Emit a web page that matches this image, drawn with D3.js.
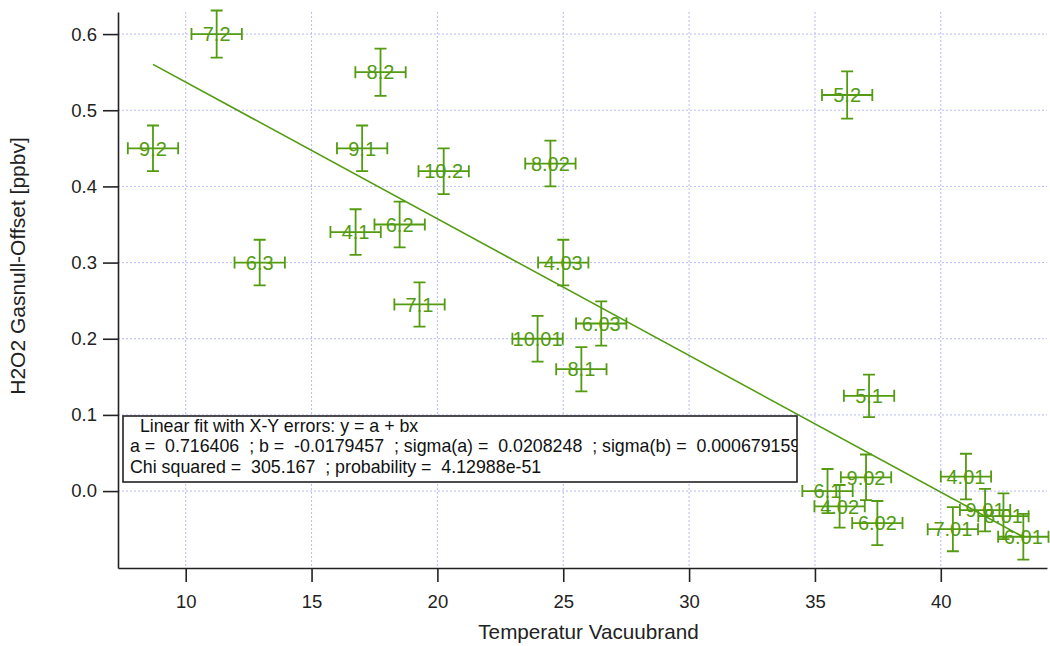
<!DOCTYPE html>
<html>
<head>
<meta charset="utf-8">
<script src="https://cdn.jsdelivr.net/npm/d3@7"></script>
<style>
  body { margin: 0; background: #fff; }
  svg { font-family: "Liberation Sans", Arial, sans-serif; }
</style>
</head>
<body>
<div id="chart"></div>
<script>
// point labels and values
var labels = ["7.2", "8.2", "9.2", "9.1", "10.2", "5.2", "8.02", "4.1", "6.2", "6.3", "4.03", "7.1",
              "6.03", "10.01", "8.1", "5.1", "9.02", "6.1", "4.02", "6.02", "4.01", "7.01", "9.01", "8.01", "6.01"]
var xValues = [11.23, 17.74, 8.70, 17.01, 20.25, 36.28, 24.49, 16.75, 18.50, 12.94, 25.00, 19.29,
               26.51, 23.98, 25.72, 37.15, 37.03, 35.50, 35.98, 37.48, 41.00, 40.48, 41.76, 42.49, 43.28]
var yValues = [0.600, 0.550, 0.450, 0.450, 0.420, 0.520, 0.430, 0.340, 0.350, 0.300, 0.300, 0.245,
               0.220, 0.200, 0.160, 0.125, 0.018, 0.000, -0.020, -0.042, 0.019, -0.050, -0.025, -0.033, -0.060]
var xErrors = [1.0, 1.0, 1.0, 1.0, 1.0, 1.0, 1.0, 1.0, 1.0, 1.0, 1.0, 1.0,
               1.0, 1.0, 1.0, 1.0, 1.0, 1.0, 1.0, 1.0, 1.0, 1.0, 1.0, 1.0, 1.0]
var yErrors = [0.031, 0.031, 0.030, 0.030, 0.030, 0.031, 0.030, 0.030, 0.030, 0.030, 0.030, 0.029,
               0.029, 0.030, 0.029, 0.028, 0.030, 0.029, 0.028, 0.029, 0.030, 0.029, 0.028, 0.030, 0.030]
var xTicks = [10, 15, 20, 25, 30, 35, 40]
var yTicks = [0.0, 0.1, 0.2, 0.3, 0.4, 0.5, 0.6]
var fitA = 0.716406
var fitB = -0.0179457
var fitText = [
  "  Linear fit with X-Y errors: y = a + bx",
  "a =  0.716406  ; b =  -0.0179457  ; sigma(a) =  0.0208248  ; sigma(b) =  0.000679159",
  "Chi squared =  305.167  ; probability =  4.12988e-51"
]

var width = 1050, height = 646
var plotLeft = 118, plotRight = 1047, plotTop = 12, plotBottom = 568
var green = "#539b10"

var x = d3.scaleLinear().domain([7.31, 44.22]).range([plotLeft, plotRight])
var y = d3.scaleLinear().domain([-0.101, 0.629]).range([plotBottom, plotTop])

var svg = d3.select("#chart").append("svg")
    .attr("width", width)
    .attr("height", height)

// dotted grid
svg.append("g").selectAll("line")
  .data(xTicks).enter().append("line")
  .attr("x1", function (d) { return x(d) }).attr("x2", function (d) { return x(d) })
  .attr("y1", plotTop).attr("y2", plotBottom)
  .attr("stroke", "#b9b9fa").attr("stroke-width", 1).attr("stroke-dasharray", "2,2")
svg.append("g").selectAll("line")
  .data(yTicks).enter().append("line")
  .attr("x1", plotLeft).attr("x2", plotRight)
  .attr("y1", function (d) { return y(d) }).attr("y2", function (d) { return y(d) })
  .attr("stroke", "#b9b9fa").attr("stroke-width", 1).attr("stroke-dasharray", "2,2")

// axes
var xAxis = d3.axisBottom(x).tickValues(xTicks).tickSize(14).tickPadding(13).tickSizeOuter(0)
var yAxis = d3.axisLeft(y).tickValues(yTicks).tickSize(15).tickPadding(6).tickSizeOuter(0)
  .tickFormat(d3.format(".1f"))

var gx = svg.append("g").attr("transform", "translate(0," + plotBottom + ")").call(xAxis)
var gy = svg.append("g").attr("transform", "translate(" + plotLeft + ",0)").call(yAxis)
;[gx, gy].forEach(function (g) {
  g.select(".domain").attr("stroke", "#222").attr("stroke-width", 1.6)
  g.selectAll(".tick line").attr("stroke", "#222").attr("stroke-width", 1.6)
  g.selectAll(".tick text").attr("fill", "#222").attr("font-size", 18.5)
    .attr("font-family", "Liberation Sans, Arial, sans-serif")
})

svg.append("text")
  .attr("x", (plotLeft + plotRight) / 2 + 6).attr("y", 639)
  .attr("text-anchor", "middle").attr("font-size", 20.7).attr("fill", "#222")
  .text("Temperatur Vacuubrand")
svg.append("text")
  .attr("transform", "translate(25," + 266 + ") rotate(-90)")
  .attr("text-anchor", "middle").attr("font-size", 21).attr("fill", "#222")
  .text("H2O2 Gasnull-Offset [ppbv]")

// fit line
var x0 = d3.min(xValues), x1 = d3.max(xValues)
svg.append("line")
  .attr("x1", x(x0)).attr("y1", y(fitA + fitB * x0))
  .attr("x2", x(x1)).attr("y2", y(fitA + fitB * x1))
  .attr("stroke", green).attr("stroke-width", 1.6)

// points with error bars
var points = labels.map(function (l, i) {
  return { label: l, x: xValues[i], y: yValues[i], ex: xErrors[i], ey: yErrors[i] }
})
var cap = 6
var node = svg.append("g").selectAll("g")
  .data(points).enter().append("g")
  .attr("stroke", green).attr("stroke-width", 1.8).attr("fill", "none")

node.append("path").attr("d", function (d) {
  var cx = x(d.x), cy = y(d.y)
  var xl = x(d.x - d.ex), xr = x(d.x + d.ex)
  var yt = y(d.y + d.ey), yb = y(d.y - d.ey)
  return "M" + xl + "," + cy + "H" + xr +
    "M" + xl + "," + (cy - cap) + "V" + (cy + cap) +
    "M" + xr + "," + (cy - cap) + "V" + (cy + cap) +
    "M" + cx + "," + yt + "V" + yb +
    "M" + (cx - cap) + "," + yt + "H" + (cx + cap) +
    "M" + (cx - cap) + "," + yb + "H" + (cx + cap)
})
node.append("text")
  .attr("x", function (d) { return x(d.x) })
  .attr("y", function (d) { return y(d.y) })
  .attr("dy", "0.36em")
  .attr("text-anchor", "middle")
  .attr("stroke", "none").attr("fill", green)
  .attr("font-size", 20)
  .text(function (d) { return d.label })

// fit results box
var box = { x: 123, y: 416, w: 674, h: 66 }
svg.append("clipPath").attr("id", "boxclip").append("rect")
  .attr("x", box.x).attr("y", box.y).attr("width", box.w).attr("height", box.h)
svg.append("rect")
  .attr("x", box.x).attr("y", box.y).attr("width", box.w).attr("height", box.h)
  .attr("fill", "#fff").attr("stroke", "#222").attr("stroke-width", 1.6)
svg.append("g").attr("clip-path", "url(#boxclip)").selectAll("text")
  .data(fitText).enter().append("text")
  .attr("x", box.x + 7)
  .attr("y", function (d, i) { return box.y + 15.5 + i * 20.5 })
  .attr("font-size", 17.8).attr("fill", "#111")
  .attr("xml:space", "preserve")
  .style("white-space", "pre")
  .text(function (d) { return d })
</script>
</body>
</html>
